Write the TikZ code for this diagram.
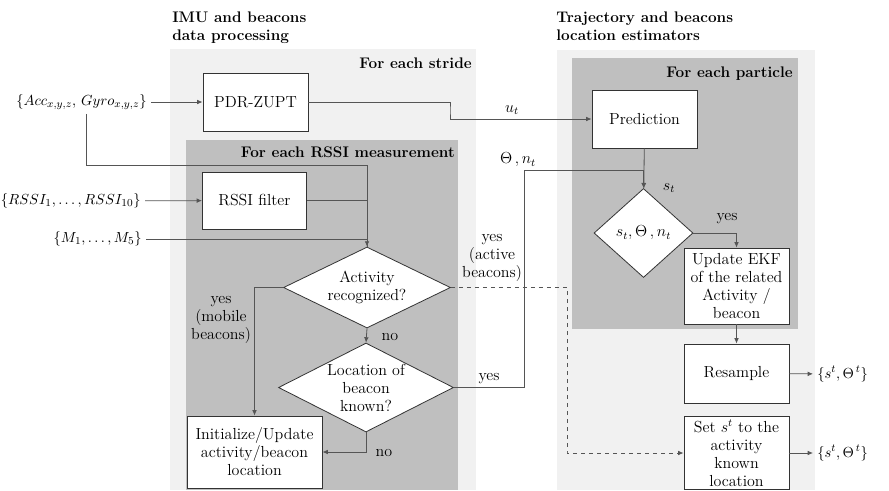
\documentclass[tikz,border=0pt]{standalone}
\usepackage{tikz}
\usetikzlibrary{arrows.meta,positioning,shapes.geometric,calc}
\definecolor{paneLight}{RGB}{241,241,241}
\definecolor{paneDark}{RGB}{191,191,191}
\definecolor{linegray}{RGB}{85,85,85}
\newcommand{\bodyfont}{\fontsize{12}{13.5}\selectfont}
\newcommand{\mathinfont}{\fontsize{11}{13.5}\selectfont}
\newcommand{\headfont}{\fontsize{11.5}{13.5}\selectfont\bfseries}
\tikzset{
  procbox/.style={draw=black!80, fill=white, line width=0.7pt, align=center,
    inner sep=1pt, font=\bodyfont},
  decision/.style={diamond, draw=black!80, fill=white, line width=0.6pt,
    inner sep=0pt},
  decisiontext/.style={font=\bodyfont, align=center, inner sep=0pt},
  iolabel/.style={font=\mathinfont, inner sep=3pt},
  flow/.style={-{Latex[length=4pt,width=3.5pt]}, draw=linegray, line width=0.6pt},
  plainflow/.style={draw=linegray, line width=0.6pt},
  dashedflow/.style={flow, dashed},
  panetitle/.style={font=\headfont, align=left, anchor=north west, inner sep=0pt},
  panelabel/.style={font=\headfont, anchor=base east, inner sep=0pt},
  edgelabel/.style={font=\bodyfont, align=center, inner sep=0pt}
}

\begin{document}
\begin{tikzpicture}[x=0.75pt, y=-0.75pt]
\useasboundingbox (0,0) rectangle (889,490);

% panels
\fill[paneLight] (170,49) rectangle (476,490);
\fill[paneDark] (186,140) rectangle (458,490);
\fill[paneLight] (557,50) rectangle (815,490);
\fill[paneDark] (572,58) rectangle (798,329);

\node[panetitle] (imutitle) at (172,12) {IMU and beacons\\data processing};
\node[panetitle] (trajtitle) at (556,12) {Trajectory and beacons\\location estimators};
\node[panelabel] (stridelbl) at (472,68) {For each stride};
\node[panelabel] (rssilbl) at (455,157) {For each RSSI measurement};
\node[panelabel] (particlelbl) at (793,77) {For each particle};

% inputs
\node[iolabel, anchor=east] (acc) at (151,102) {$\{Acc_{x,y,z},\, Gyro_{x,y,z}\}$};
\node[iolabel, anchor=east] (rssiin) at (145,201) {$\{RSSI_1, \dots, RSSI_{10}\}$};
\node[iolabel, anchor=east] (mset) at (146,239) {$\{M_1, \dots, M_5\}$};

% IMU and beacons data processing
\node[procbox, minimum width=78.75pt, minimum height=43.5pt] (pdr) at (255.5,102) {PDR-ZUPT};
\node[procbox, minimum width=78pt, minimum height=42.75pt] (rssi) at (254.5,200.5) {RSSI filter};
\node[decision, minimum width=125.25pt, minimum height=60.75pt,
  label={[decisiontext]center:{Activity\\recognized?}}] (act) at (367,287.5) {};
\node[decision, minimum width=131.25pt, minimum height=66.75pt,
  label={[decisiontext]center:{Location of\\beacon\\known?}}] (loc) at (366,387.5) {};
\node[procbox, minimum width=101.25pt, minimum height=54pt] (init) at (254.5,452) {Initialize/Update\\activity/beacon\\location};

% trajectory and beacons location estimators
\node[procbox, minimum width=78.75pt, minimum height=43.5pt] (pred) at (644.5,119) {Prediction};
\node[decision, minimum width=74.25pt, minimum height=66.75pt,
  label={[decisiontext]center:{$s_t, \Theta\,, n_t$}}] (sdec) at (643.5,233) {};
\node[procbox, minimum width=78.75pt, minimum height=57pt] (upd) at (736.5,286) {Update EKF\\of the related\\Activity /\\beacon};
\node[procbox, minimum width=78.75pt, minimum height=44.25pt] (res) at (736.5,373.5) {Resample};
\node[procbox, minimum width=78.75pt, minimum height=54.75pt] (setb) at (736.5,453) {Set $s^t$ to the\\activity\\known\\location};

% outputs
\node[iolabel, anchor=west] (out1) at (813,374) {$\{s^t, \Theta^{\,t}\}$};
\node[iolabel, anchor=west] (out2) at (813,453) {$\{s^t, \Theta^{\,t}\}$};

% bend points
\coordinate (ubend) at (450,110);
\coordinate (gyrox) at (86,165);
\coordinate (thetaturn) at (524,170);
\coordinate (dashx) at (567,452);

% connectors
\draw[flow] (acc) -- (pdr);
\draw[flow] (pdr.east) -| (ubend) |- (pred.west);
\draw[flow] (gyrox |- acc.south) -- (gyrox) -| (act.north);
\draw[flow] (rssiin) -- (rssi);
\draw[plainflow] (rssi.east) -| (act.north);
\draw[plainflow] (mset) -- (mset -| act.north);
\draw[flow] (act.south) -- (loc.north);
\draw[flow] (act.west) -| (init.north);
\draw[flow] (loc.south) |- (init.east);
\draw[flow] (loc.east) -| (thetaturn) -| (sdec.north);
\draw[dashedflow] (act.east) -| (dashx) |- (setb.west);
\draw[flow] (pred) -- (sdec);
\draw[flow] (sdec.east) -| (upd.north);
\draw[flow] (upd) -- (res);
\draw[flow] (res) -- (out1);
\draw[flow] (setb) -- (out2);

% connector labels
\node[edgelabel] (utlbl) at (512,110) {$u_t$};
\node[edgelabel] (thetalbl) at (518,160) {$\Theta\,, n_t$};
\node[edgelabel] (stlbl) at (669,188) {$s_t$};
\node[edgelabel] (yeslbl1) at (727,219) {yes};
\node[edgelabel] (nolbl1) at (390,337) {no};
\node[edgelabel] (mobilelbl) at (221,320) {yes\\(mobile\\beacons)};
\node[edgelabel] (activelbl) at (492,258) {yes\\(active\\beacons)};
\node[edgelabel] (yeslbl2) at (489,379) {yes};
\node[edgelabel] (nolbl2) at (384,453) {no};
\end{tikzpicture}
\end{document}
